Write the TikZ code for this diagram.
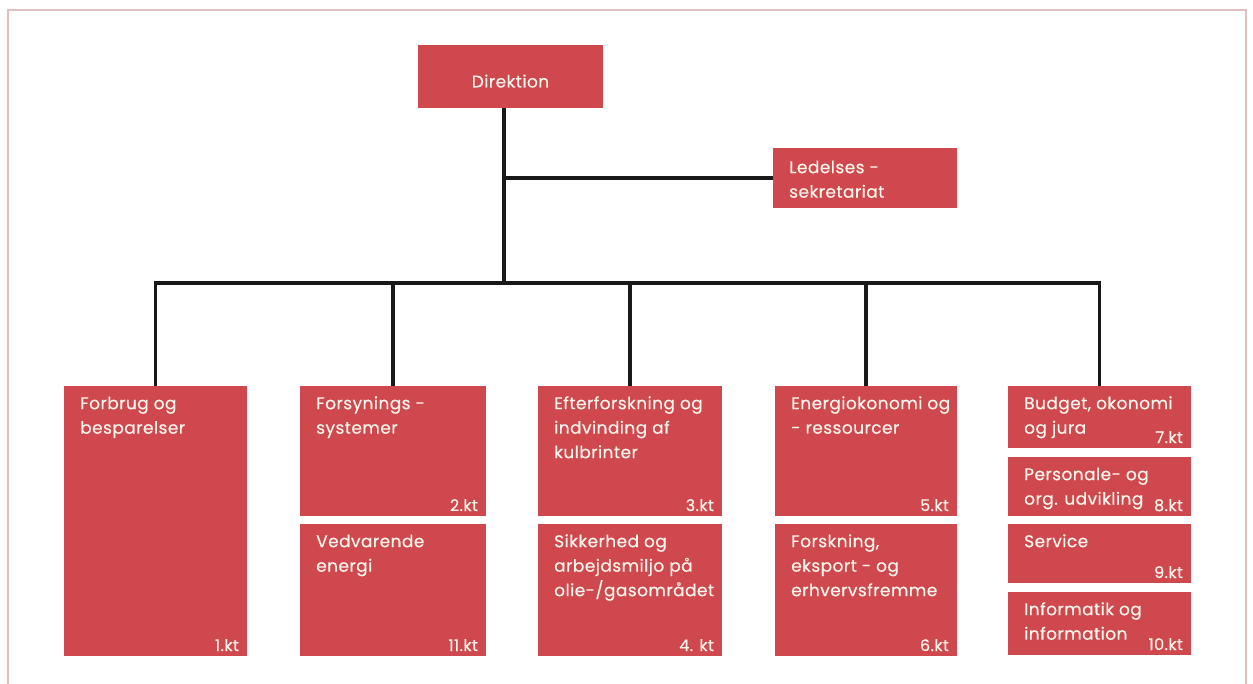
\documentclass[tikz,border=0pt]{standalone}
\usepackage{fontspec}
\newfontfamily\popfont[LetterSpace=2.5,FakeBold=0.4]{Poppins}
\definecolor{boxred}{RGB}{206,72,78}
\definecolor{boxtext}{RGB}{253,244,236}
\definecolor{framec}{RGB}{222,192,192}
\definecolor{linec}{RGB}{25,25,25}
\newcommand\bxt[2]{\node[ttl] (#1-t) at ([xshift=16pt,yshift=-9pt]#1.north west) {\rule{0pt}{14pt}#2};}
\newcommand\bxk[2]{\node[ktl] (#1-k) at ([xshift=-8pt,yshift=5pt]#1.south east) {#2};}
\begin{document}
\begin{tikzpicture}[x=1pt,y=-1pt,
  box/.style={rectangle, fill=boxred, draw=none, inner sep=0pt, outer sep=0pt},
  ttl/.style={anchor=north west, inner sep=0pt, align=left, text=boxtext,
    font=\popfont\fontsize{17}{24.5}\selectfont},
  ktl/.style={anchor=base east, inner sep=0pt, text=boxtext,
    font=\popfont\fontsize{16}{20}\selectfont},
  conn/.style={draw=linec, line width=3.2pt}]
\useasboundingbox (0,0) rectangle (1253,684);
\fill[white] (0,0) rectangle (1253,684);
\draw[framec, line width=1.5pt] (8,684) -- (8,10) -- (1246,10) -- (1246,684);

% top level
\node[box, minimum width=185pt, minimum height=63pt] (dir) at (510.5,76.5) {};
\node[anchor=base, inner sep=0pt, text=boxtext,
  font=\popfont\fontsize{17}{20}\selectfont] (dir-t) at ([yshift=-11pt]dir.center) {Direktion};
\node[box, minimum width=184pt, minimum height=60pt] (led) at (865,178) {};
\node[ttl] (led-t) at ([xshift=16pt,yshift=-11pt]led.north west)
  {\rule{0pt}{14pt}Ledelses -\\sekretariat};

% departments
\node[box, minimum width=183pt, minimum height=270pt] (c1) at (155.5,521) {};
\node[box, minimum width=186pt, minimum height=130pt] (c2a) at (393,451) {};
\node[box, minimum width=186pt, minimum height=132pt] (c2b) at (393,590) {};
\node[box, minimum width=184pt, minimum height=130pt] (c3a) at (630,451) {};
\node[box, minimum width=184pt, minimum height=132pt] (c3b) at (630,590) {};
\node[box, minimum width=182pt, minimum height=130pt] (c4a) at (866,451) {};
\node[box, minimum width=182pt, minimum height=132pt] (c4b) at (866,590) {};
\node[box, minimum width=183pt, minimum height=62pt] (c5a) at (1099.5,417) {};
\node[box, minimum width=183pt, minimum height=59pt] (c5b) at (1099.5,486.5) {};
\node[box, minimum width=183pt, minimum height=59pt] (c5c) at (1099.5,553.5) {};
\node[box, minimum width=183pt, minimum height=63pt] (c5d) at (1099.5,623.5) {};

\bxt{c1}{Forbrug og\\besparelser}
\bxk{c1}{1.kt}
\bxt{c2a}{Forsynings -\\systemer}
\bxk{c2a}{2.kt}
\bxt{c2b}{Vedvarende\\energi}
\bxk{c2b}{11.kt}
\bxt{c3a}{Efterforskning og\\indvinding af\\kulbrinter}
\bxk{c3a}{3.kt}
\bxt{c3b}{Sikkerhed og\\arbejdsmiljo på\\olie-/gasområdet}
\bxk{c3b}{4. kt}
\bxt{c4a}{Energiokonomi og\\- ressourcer}
\bxk{c4a}{5.kt}
\bxt{c4b}{Forskning,\\eksport - og\\erhvervsfremme}
\bxk{c4b}{6.kt}
\bxt{c5a}{Budget, okonomi\\og jura}
\bxk{c5a}{7.kt}
\bxt{c5b}{Personale- og\\org. udvikling}
\bxk{c5b}{8.kt}
\bxt{c5c}{Service}
\bxk{c5c}{9.kt}
\bxt{c5d}{Informatik og\\information}
\bxk{c5d}{10.kt}

% connectors
\coordinate (j) at (504,283);
\draw[conn] (j |- dir.south) -- (j);
\draw[conn] (j |- led.west) -- (led.west);
\draw[conn, line cap=rect] (c1.north |- j) -- (c5a.north |- j);
\foreach \n in {c1,c2a,c3a,c4a,c5a}
  \draw[conn] (\n.north |- j) -- (\n.north);
\end{tikzpicture}
\end{document}
